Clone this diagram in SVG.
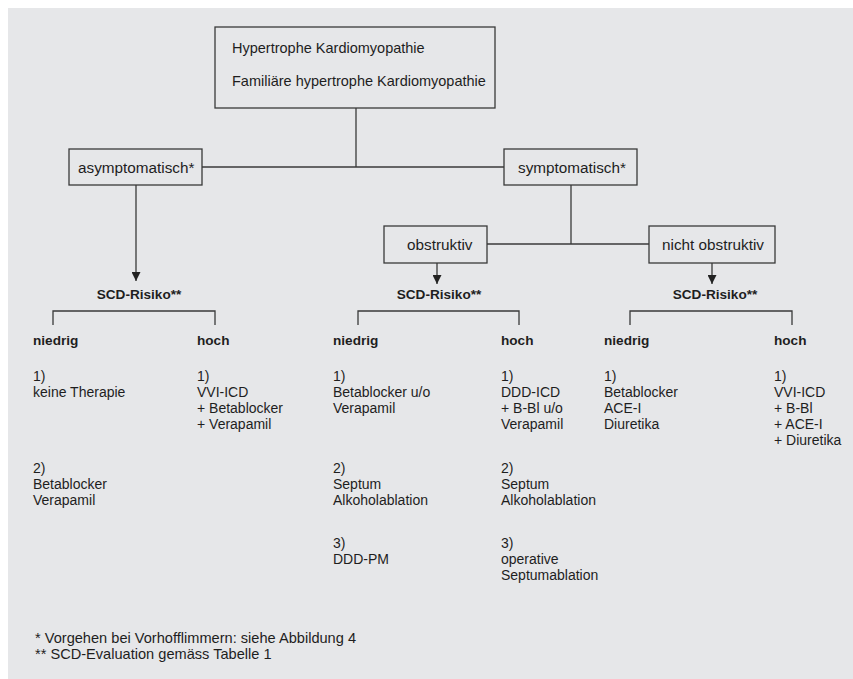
<svg xmlns="http://www.w3.org/2000/svg" width="853" height="679" viewBox="0 0 853 679">
<defs>
<style>
.bg{fill:#e6e7e9}
.box{fill:#e6e7e9;stroke:#3a3a3a;stroke-width:1.3}
.ln{fill:none;stroke:#3a3a3a;stroke-width:1.3}
text{font-family:"Liberation Sans",Arial,sans-serif;fill:#1e1e1e}
.t{font-size:14px}
.tb{font-size:15.3px}
.th{font-size:14.5px}
.b{font-size:13.6px;font-weight:bold}
.c{text-anchor:middle}
.fn{font-size:14.6px}
</style>
<marker id="ah" viewBox="0 0 10 10" refX="10" refY="5" markerWidth="9" markerHeight="9" markerUnits="userSpaceOnUse" orient="auto">
<path d="M0,0 L10,5 L0,10 Z" fill="#222"/>
</marker>
</defs>
<rect class="bg" x="8" y="8" width="845" height="671"/>

<g id="connectors">
<line class="ln" x1="356" y1="108" x2="356" y2="167"/>
<line class="ln" x1="202" y1="167" x2="504" y2="167"/>
<line class="ln" x1="136" y1="185" x2="136" y2="281" marker-end="url(#ah)"/>
<line class="ln" x1="571" y1="185" x2="571" y2="244"/>
<line class="ln" x1="487" y1="244" x2="649" y2="244"/>
<line class="ln" x1="437" y1="263" x2="437" y2="284" marker-end="url(#ah)"/>
<line class="ln" x1="712" y1="263" x2="712" y2="284" marker-end="url(#ah)"/>
<path class="ln" d="M53,325 V311 H215 V325"/>
<path class="ln" d="M358,325 V311 H519 V325"/>
<path class="ln" d="M630,325 V311 H792 V325"/>
</g>

<g id="node-hcm">
<rect class="box" x="215" y="27" width="280" height="81"/>
<text class="th" x="232" y="53">Hypertrophe Kardiomyopathie</text>
<text class="th" x="232" y="86">Familiäre hypertrophe Kardiomyopathie</text>
</g>

<g id="node-asym">
<rect class="box" x="69" y="149" width="133" height="36"/>
<text class="tb" x="78" y="173">asymptomatisch*</text>
</g>

<g id="node-sym">
<rect class="box" x="504" y="149" width="133" height="36"/>
<text class="tb" x="518" y="173">symptomatisch*</text>
</g>

<g id="node-obstr">
<rect class="box" x="384" y="226" width="103" height="37"/>
<text class="tb" x="407" y="250">obstruktiv</text>
</g>

<g id="node-nonobstr">
<rect class="box" x="649" y="226" width="126" height="37"/>
<text class="tb" x="662" y="250">nicht obstruktiv</text>
</g>

<g id="node-scd-left">
<text class="b c" x="139" y="299">SCD-Risiko**</text>
<text class="b" x="33" y="345">niedrig</text>
<text class="b" x="197" y="345">hoch</text>
<text class="t" x="33" y="381">1)</text>
<text class="t" x="33" y="397">keine Therapie</text>
<text class="t" x="33" y="473">2)</text>
<text class="t" x="33" y="489">Betablocker</text>
<text class="t" x="33" y="505">Verapamil</text>
<text class="t" x="197" y="381">1)</text>
<text class="t" x="197" y="397">VVI-ICD</text>
<text class="t" x="197" y="413">+ Betablocker</text>
<text class="t" x="197" y="429">+ Verapamil</text>
</g>

<g id="node-scd-mid">
<text class="b c" x="439" y="299">SCD-Risiko**</text>
<text class="b" x="333" y="345">niedrig</text>
<text class="b" x="501" y="345">hoch</text>
<text class="t" x="333" y="381">1)</text>
<text class="t" x="333" y="397">Betablocker u/o</text>
<text class="t" x="333" y="413">Verapamil</text>
<text class="t" x="333" y="473">2)</text>
<text class="t" x="333" y="489">Septum</text>
<text class="t" x="333" y="505">Alkoholablation</text>
<text class="t" x="333" y="548">3)</text>
<text class="t" x="333" y="564">DDD-PM</text>
<text class="t" x="501" y="381">1)</text>
<text class="t" x="501" y="397">DDD-ICD</text>
<text class="t" x="501" y="413">+ B-Bl u/o</text>
<text class="t" x="501" y="429">Verapamil</text>
<text class="t" x="501" y="473">2)</text>
<text class="t" x="501" y="489">Septum</text>
<text class="t" x="501" y="505">Alkoholablation</text>
<text class="t" x="501" y="548">3)</text>
<text class="t" x="501" y="564">operative</text>
<text class="t" x="501" y="580">Septumablation</text>
</g>

<g id="node-scd-right">
<text class="b c" x="715" y="299">SCD-Risiko**</text>
<text class="b" x="604" y="345">niedrig</text>
<text class="b" x="774" y="345">hoch</text>
<text class="t" x="604" y="381">1)</text>
<text class="t" x="604" y="397">Betablocker</text>
<text class="t" x="604" y="413">ACE-I</text>
<text class="t" x="604" y="429">Diuretika</text>
<text class="t" x="774" y="381">1)</text>
<text class="t" x="774" y="397">VVI-ICD</text>
<text class="t" x="774" y="413">+ B-Bl</text>
<text class="t" x="774" y="429">+ ACE-I</text>
<text class="t" x="774" y="445">+ Diuretika</text>
</g>

<g id="footnotes">
<text class="fn" x="35" y="643">* Vorgehen bei Vorhofflimmern: siehe Abbildung 4</text>
<text class="fn" x="35" y="659">** SCD-Evaluation gemäss Tabelle 1</text>
</g>
</svg>
